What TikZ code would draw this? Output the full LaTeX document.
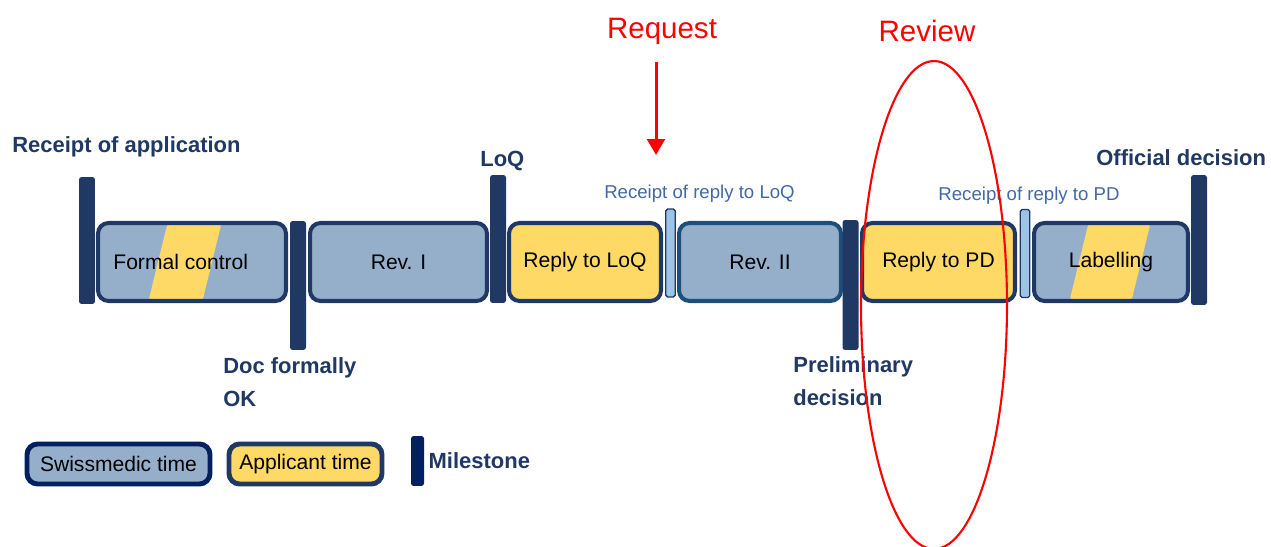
\documentclass[tikz,border=0pt]{standalone}
\usepackage{fontspec}
\setmainfont{Liberation Sans}
\usepackage{tikz}
\usetikzlibrary{positioning,arrows.meta,calc}

\definecolor{smblue}{HTML}{95AFCB}
\definecolor{apyellow}{HTML}{FFD966}
\definecolor{navy}{HTML}{203864}
\definecolor{revtwo}{HTML}{1F4E79}
\definecolor{darknavy}{HTML}{002060}
\definecolor{barblue}{HTML}{9DC3E6}
\definecolor{txtblue}{HTML}{4169A8}

\begin{document}
\begin{tikzpicture}[
                    x=0.02cm,
                    y=-0.02cm,
                    phase/.style={draw=navy, line width=2.3pt, rounded corners=6pt,
                        minimum height=1.56cm, inner sep=0pt,
                        font=\fontsize{12}{14}\selectfont},
                    smphase/.style={phase, fill=smblue},
                    apphase/.style={phase, fill=apyellow},
                    mixed/.style 2 args={smphase,
                        path picture={\fill[apyellow]
                            ($(path picture bounding box.center)+(#1,-45)$)
                            -- ++(#2,0) -- ++(-22,90) -- ++(-#2,0) -- cycle;}},
                    milestone/.style={fill=navy, rounded corners=1.5pt,
                        minimum width=0.32cm, inner sep=0pt},
                    receipt/.style={fill=barblue, draw=navy, line width=0.8pt,
                        rounded corners=1pt, minimum width=0.19cm,
                        minimum height=1.76cm, inner sep=0pt},
                    mslabel/.style={text=navy, inner sep=0pt, align=left,
                        font=\bfseries\fontsize{12.5}{18.7}\selectfont},
                    rclabel/.style={text=txtblue, inner sep=0pt,
                        font=\fontsize{10.6}{13}\selectfont},
                    redlabel/.style={text=red, inner sep=0pt,
                        font=\fontsize{16.8}{20}\selectfont},
                    redarrow/.style={red, line width=1.7pt,
                        -{Triangle[width=10pt,length=9pt]}}
                ]
                \useasboundingbox (0,0) rectangle (1271,547);

                \node[mixed={-23}{54}, minimum width=3.76cm] (formal) at (192,262) {Formal control\hspace*{0.45cm}};
                \node[smphase, minimum width=3.54cm] (rev1) at (398.5,262) {Rev. I};
                \node[apphase, minimum width=3.04cm] (loqreply) at (585,262) {Reply to LoQ};
                \node[smphase, draw=revtwo, minimum width=3.24cm] (rev2) at (760,262) {Rev. II};
                \node[apphase, minimum width=3.06cm] (pdreply) at (938.5,262) {Reply to PD};
                \node[mixed={-21}{62}, minimum width=3.08cm] (labelling) at (1111,262) {Labelling};

                \node[milestone, minimum height=2.54cm] (receipt) at (87,240.5) {};
                \node[milestone, minimum height=2.58cm] (docok) at (298,285.5) {};
                \node[milestone, minimum height=2.56cm] (loq) at (498,239) {};
                \node[milestone, minimum height=2.6cm] (prelim) at (850.5,285) {};
                \node[milestone, minimum height=2.6cm] (official) at (1199,240) {};

                \node[receipt] (loqrec) at (670.5,253) {};
                \node[receipt] (pdrec) at (1025,253.5) {};

                \node[mslabel, anchor=west] (receiptlabel) at (12,146.5) {Receipt of application};
                \node[mslabel, anchor=west] (loqlabel) at (480,161) {LoQ};
                \node[mslabel, anchor=west] (officiallabel) at (1096,157.5) {Official decision};
                \node[mslabel, anchor=west] (docoklabel) at (223,382) {Doc formally\\OK};
                \node[mslabel, anchor=west] (prelimlabel) at (793,381) {Preliminary\\decision};

                \node[rclabel] (loqreclabel) at (699.5,193.5) {Receipt of reply to LoQ};
                \node[rclabel] (pdreclabel) at (1029,195.5) {Receipt of reply to PD};

                \node[redlabel] (request) at (662,31) {Request};
                \node[redlabel] (review) at (927,31) {Review};
                \coordinate (reqtop) at (656,62);
                \coordinate (reqtip) at (656,155);
                \draw[redarrow] (reqtop) -- (reqtip);
                \draw[red, line width=1.2pt] (934,305) ellipse [x radius=1.46cm, y radius=4.88cm];

                \node[smphase, draw=darknavy, line width=2.8pt, minimum width=3.66cm,
                      minimum height=0.8cm] (legsm) at (118.5,464) {Swissmedic time};
                \node[apphase, line width=2.8pt, minimum width=3.06cm,
                      minimum height=0.8cm] (legap) at (305.5,464) {Applicant time};
                \node[milestone, fill=darknavy, minimum width=0.26cm,
                      minimum height=1cm] (legms) at (417.5,461) {};
                \node[mslabel, right=0.08cm of legms] (legmslabel) {Milestone};
            \end{tikzpicture}
\end{document}
